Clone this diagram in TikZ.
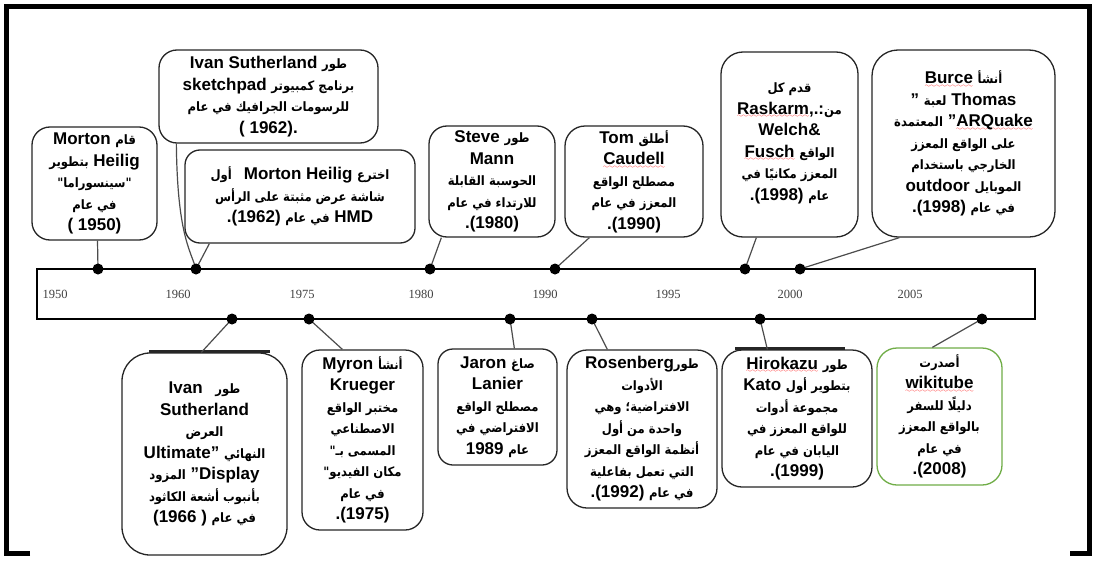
\documentclass[tikz,border=0pt]{standalone}
\usepackage{fontspec}
\setmainfont{Liberation Sans}
\newfontfamily\arabicfont[Script=Arabic,Scale=0.76]{DejaVu Sans Condensed}
\newfontfamily\yearfont{Liberation Serif}
\TeXXeTstate=1
% right-to-left Arabic run
\newcommand\ar[1]{{\arabicfont\beginR #1\endR}}
% red wavy underline built from a wave glyph
\font\wavefont=lasy6
\newsavebox\sqbox
\newcommand\sq[1]{\sbox\sqbox{#1}\leavevmode\rlap{\lower3.5pt\hbox to\wd\sqbox{\color{red}\xleaders\hbox{\wavefont\char58}\hfil}}\usebox\sqbox}
\definecolor{boxgreen}{RGB}{112,173,71}
\tikzset{
  frame/.style={line width=5pt, line join=miter},
  bar/.style={line width=2.4pt},
  box/.style={draw=black!85, line width=1.3pt, rounded corners=16pt, fill=white,
    align=center, inner sep=0pt,
    font=\bfseries\fontsize{17}{21.5}\selectfont},
  shadowtop/.style={line width=3pt, black!85},
  dot/.style={circle, fill=black, inner sep=0pt, minimum size=11pt},
  conn/.style={draw=black!70, line width=1.2pt},
  yr/.style={font=\yearfont\fontsize{12.5}{14}\selectfont, text=black!75}
}
\begin{document}
\begin{tikzpicture}[x=1pt,y=-1pt]
\useasboundingbox (0,0) rectangle (1095,562);
\fill[white] (0,0) rectangle (1095,562);
% outer frame
\draw[frame] (30,553.5) -- (6.5,553.5) -- (6.5,6.5) -- (1089.5,6.5) -- (1089.5,553.5) -- (1070,553.5);
% timeline bar and years
\draw[bar] (37,269) rectangle (1035,319);
\node[yr] (y1950) at (55,294) {1950};
\node[yr] (y1960) at (178,294) {1960};
\node[yr] (y1975) at (302,294) {1975};
\node[yr] (y1980) at (421,294) {1980};
\node[yr] (y1990) at (545,294) {1990};
\node[yr] (y1995) at (668,294) {1995};
\node[yr] (y2000) at (790,294) {2000};
\node[yr] (y2005) at (910,294) {2005};
% event dots
\coordinate (p1) at (98,269);
\coordinate (p2) at (196,269);
\coordinate (p3) at (430,269);
\coordinate (p4) at (555,269);
\coordinate (p5) at (745,269);
\coordinate (p6) at (800,269);
\coordinate (p7) at (232,319);
\coordinate (p8) at (309,319);
\coordinate (p9) at (510,319);
\coordinate (p10) at (592,319);
\coordinate (p11) at (760,319);
\coordinate (p12) at (982,319);

% upper events
\node[box, minimum width=125pt, minimum height=113pt, rounded corners=18pt] (A) at (94.5,183.5) {%
Morton \ar{قام}\\
\ar{بتطوير} Heilig\\
\ar{"سينسوراما"}\\
\ar{في عام}\\
( 1950)};
\node[box, minimum width=219pt, minimum height=93pt, rounded corners=18pt] (B) at (268.5,96.5) {%
Ivan Sutherland \ar{طور}\\
sketchpad \ar{برنامج كمبيوتر}\\
\ar{للرسومات الجرافيك في عام}\\
( 1962).};
\node[box, minimum width=230pt, minimum height=93pt, rounded corners=15pt] (C) at (300,196.5) {%
\ar{أول}\hspace{12pt}Morton Heilig \ar{اخترع}\\
\ar{شاشة عرض مثبتة على الرأس}\\
.(1962) \ar{في عام} HMD};
\node[box, minimum width=126pt, minimum height=111pt, rounded corners=18pt] (D) at (492,181.5) {%
Steve \ar{طور}\\
Mann\\
\ar{الحوسبة القابلة}\\
\ar{للارتداء في عام}\\
.(1980)};
\node[box, minimum width=138pt, minimum height=111pt, rounded corners=20pt] (E) at (634,181.5) {%
Tom \ar{أطلق}\\
\sq{Caudell}\\
\ar{مصطلح الواقع}\\
\ar{المعزز في عام}\\
.(1990)};
\node[box, minimum width=137pt, minimum height=185pt, rounded corners=22pt] (F) at (789.5,144.5) {%
\ar{قدم كل}\\
\sq{Raskarm},.:\ar{من}\\
Welch\&\\
\sq{Fusch} \ar{الواقع}\\
\ar{المعزز مكانيًا في}\\
.(1998) \ar{عام}\rule[-6pt]{0pt}{0pt}};
\node[box, minimum width=183pt, minimum height=187pt, rounded corners=26pt] (G) at (963.5,143.5) {%
\sq{Burce} \ar{أنشأ}\\
" \ar{لعبة} Thomas\\
\ar{المعتمدة} "\sq{ARQuake}\\
\ar{على الواقع المعزز}\\
\ar{الخارجي باستخدام}\\
outdoor \ar{الموبايل}\\
.(1998) \ar{في عام}};

% lower events
\node[box, minimum width=165pt, minimum height=202pt, rounded corners=28pt] (H) at (204.5,454) {%
Ivan\hspace{8pt} \ar{طور}\\
Sutherland\\
\ar{العرض}\\
Ultimate" \ar{النهائي}\\
\ar{المزود} "Display\\
\ar{بأنبوب أشعة الكاثود}\\
(1966 ) \ar{في عام}};
\node[box, minimum width=121pt, minimum height=180pt, rounded corners=18pt] (I) at (362.5,440) {%
Myron \ar{أنشأ}\\
Krueger\\
\ar{مختبر الواقع}\\
\ar{الاصطناعي}\\
\ar{المسمى بـ"}\\
\ar{مكان الفيديو"}\\
\ar{في عام}\\
.(1975)};
\node[box, minimum width=119pt, minimum height=116pt, rounded corners=15pt] (J) at (497.5,407) {%
Jaron \ar{صاغ}\\
Lanier\\
\ar{مصطلح الواقع}\\
\ar{الافتراضي في}\\
1989 \ar{عام}};
\node[box, minimum width=150pt, minimum height=158pt, rounded corners=20pt] (K) at (642,429) {%
Rosenberg\ar{طور}\\
\ar{الأدوات}\\
\ar{الافتراضية؛ وهي}\\
\ar{واحدة من أول}\\
\ar{أنظمة الواقع المعزز}\\
\ar{التي تعمل بفاعلية}\\
.(1992) \ar{في عام}};
\node[box, minimum width=150pt, minimum height=137pt, rounded corners=20pt] (L) at (797,418.5) {%
\sq{Hirokazu} \ar{طور}\\
Kato \ar{بتطوير أول}\\
\ar{مجموعة أدوات}\\
\ar{للواقع المعزز في}\\
\ar{اليابان في عام}\\
.(1999)};
\node[box, draw=boxgreen, minimum width=125pt, minimum height=137pt, rounded corners=20pt] (M) at (939.5,416.5) {%
\ar{أصدرت}\\
\sq{wikitube}\\
\ar{دليلًا للسفر}\\
\ar{بالواقع المعزز}\\
\ar{في عام}\\
.(2008)};
% heavier top edges of two boxes
\draw[shadowtop] ([xshift=28pt,yshift=0.5pt]H.north west) -- ([xshift=-18pt,yshift=0.5pt]H.north east);
\draw[shadowtop] ([xshift=14pt,yshift=0.5pt]L.north west) -- ([xshift=-28pt,yshift=0.5pt]L.north east);

% connectors
\draw[conn] ([xshift=3pt]A.south) -- (p1);
\draw[conn] ([xshift=18pt]B.south west) .. controls +(1,90) and +(-6,-20) .. (p2);
\draw[conn] ([xshift=25pt]C.south west) -- (p2);
\draw[conn] ([xshift=13pt]D.south west) -- (p3);
\draw[conn] ([xshift=25pt]E.south west) -- (p4);
\draw[conn] ([xshift=36pt]F.south west) -- (p5);
\draw[conn] ([xshift=28pt]G.south west) -- (p6);
\draw[conn] (p7) -- ([xshift=80pt]H.north west);
\draw[conn] (p8) -- ([xshift=41pt]I.north west);
\draw[conn] (p9) -- ([xshift=77pt]J.north west);
\draw[conn] (p10) -- ([xshift=41pt]K.north west);
\draw[conn] (p11) -- ([xshift=46pt]L.north west);
\draw[conn] (p12) -- ([xshift=56pt]M.north west);
% dots on top
\foreach \i in {1,...,12} \node[dot] (d\i) at (p\i) {};
\end{tikzpicture}
\end{document}
